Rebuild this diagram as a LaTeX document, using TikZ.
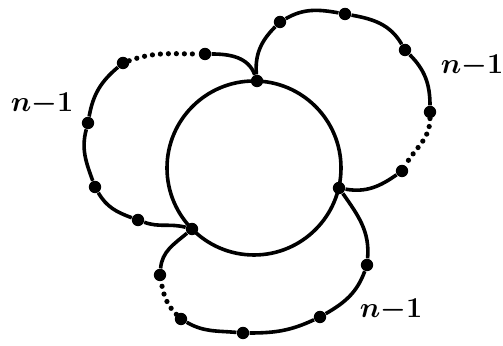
\documentclass[tikz,border=0pt]{standalone}

\begin{document}
\begin{tikzpicture}[x=0.5pt,y=0.5pt,
  curve/.style={line width=1.8pt},
  gap/.style={line width=2.6pt,line cap=round,dash pattern=on 0pt off 4pt},
  dot/.style={circle,fill,inner sep=0pt,minimum size=6.2pt},
  lab/.style={inner sep=0pt,font=\fontsize{15.5}{18}\selectfont\boldmath}]
  \useasboundingbox (0,0) rectangle (503,346);
  \node[circle,draw,line width=1.8pt,minimum size=87pt,inner sep=0pt] (ring) at (254,178) {};
  % junctions on the ring
  \node[dot] (T) at (257,265) {};
  \node[dot] (R) at (339,158) {};
  \node[dot] (L) at (192,117) {};
  % upper right loop
  \node[dot] (a1) at (280,324) {};
  \node[dot] (a2) at (345,332) {};
  \node[dot] (a3) at (405,296) {};
  \node[dot] (a4) at (430,234) {};
  \node[dot] (a5) at (402,175) {};
  \draw[curve] (T) to[out=95,in=225] (a1) to[out=30,in=170] (a2)
    to[out=-10,in=120] (a3) to[out=-45,in=90] (a4);
  \draw[gap] (a4) to[out=-90,in=60] (a5);
  \draw[curve] (a5) to[out=215,in=-10] (R);
  % lower loop
  \node[dot] (c1) at (367,81) {};
  \node[dot] (c2) at (320,29) {};
  \node[dot] (c3) at (243,13) {};
  \node[dot] (c4) at (181,27) {};
  \node[dot] (c5) at (160,71) {};
  \draw[curve] (R) to[out=-55,in=85] (c1) to[out=-110,in=30] (c2)
    to[out=-155,in=0] (c3) to[out=175,in=-30] (c4);
  \draw[gap] (c4) to[out=135,in=-80] (c5);
  \draw[curve] (c5) to[out=85,in=220] (L);
  % left loop
  \node[dot] (b1) at (138,126) {};
  \node[dot] (b2) at (95,159) {};
  \node[dot] (b3) at (88,223) {};
  \node[dot] (b4) at (123,283) {};
  \node[dot] (b5) at (205,292) {};
  \draw[curve] (L) to[out=165,in=-20] (b1) to[out=160,in=-60] (b2)
    to[out=110,in=-105] (b3) to[out=80,in=220] (b4);
  \draw[gap] (b4) to[out=20,in=180] (b5);
  \draw[curve] (b5) to[out=0,in=110] (T);
  % labels
  \node[lab] (nl) at (42,242) {$n{-}1$};
  \node[lab] (nr) at (472,280) {$n{-}1$};
  \node[lab] (nb) at (391,36) {$n{-}1$};
\end{tikzpicture}
\end{document}
